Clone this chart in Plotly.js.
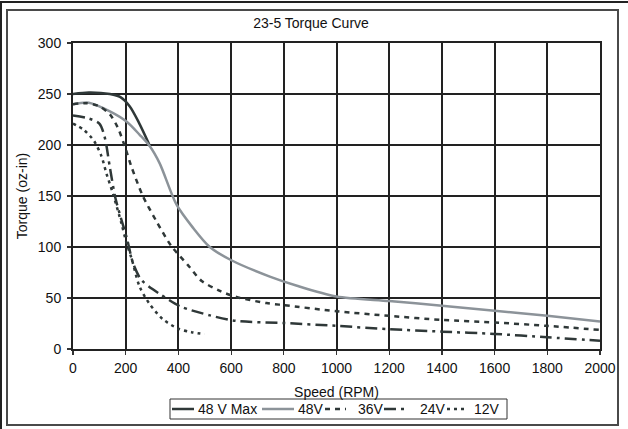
<!DOCTYPE html>
<html>
<head>
<meta charset="utf-8">
<script src="https://cdn.plot.ly/plotly-3.0.1.min.js"></script>
<style>
  html, body { margin: 0; padding: 0; background: #fff; }
  #wrap { position: relative; width: 628px; height: 429px; overflow: hidden; }
  #chart { position: absolute; left: 0; top: 0; width: 628px; height: 429px; }
  .outer { position: absolute; left: 0; top: 1px; width: 640px; height: 440px;
           border-top: 2px solid #222; border-left: 2px solid #222; pointer-events: none; }
  .inner { position: absolute; left: 6px; top: 9px; width: 609px; height: 413px;
           border: 2px solid #4a4a4a; pointer-events: none; }
</style>
</head>
<body>
<div id="wrap">
  <div id="chart"></div>
  <div class="outer"></div>
  <div class="inner"></div>
</div>
<script>
// ---- Data ----
const rpm48Max = [0, 60, 140, 180, 215, 250, 292];
const tq48Max  = [250, 251.5, 250, 247, 238, 222, 199];

const rpm48 = [0, 60, 140, 203, 253, 291, 329, 392, 455, 519, 601, 747, 850, 1000, 1200, 1400, 1600, 1800, 2000];
const tq48  = [240, 241.5, 233, 223, 210, 199, 182, 142, 119, 100, 87, 71, 62, 51.5, 47, 42.5, 37.5, 32.5, 27];

const rpm36 = [0, 50, 100, 140, 170, 200, 220, 265, 315, 373, 437, 487, 557, 620, 734, 800, 1000, 1200, 1400, 1600, 1800, 2000];
const tq36  = [240, 241, 238, 230, 217, 196, 180, 150, 126, 101, 82, 67, 57, 51, 45, 43, 37, 32.5, 28.5, 26, 22.7, 18.7];

const rpm24 = [0, 60, 100, 120, 140, 160, 180, 205, 228, 253, 266, 300, 329, 405, 519, 620, 800, 1000, 1200, 1400, 1600, 1800, 2000];
const tq24  = [229, 226, 221, 208, 178, 149, 130, 108, 84, 70, 66, 59, 54, 42, 33, 27.5, 25.5, 22.7, 19.4, 17, 14.8, 11.5, 8.2];

const rpm12 = [0, 40, 80, 108, 127, 152, 184, 203, 222, 253, 291, 342, 399, 450, 500];
const tq12  = [221, 215, 204, 189, 172, 152, 123, 104, 89, 61, 44, 29, 20, 16.5, 14.5];

const seriesNames = ['48 V Max', '48V', '36V', '24V', '12V'];
const xTicks = [0, 200, 400, 600, 800, 1000, 1200, 1400, 1600, 1800, 2000];
const yTicks = [0, 50, 100, 150, 200, 250, 300];

const dark = '#2f3838';
const grey = '#8c9399';
const FONT = 'Liberation Sans, Arial, sans-serif';
const FS = 14;
const dashes = ['solid', 'solid', '5px,5px', '12px,5px,3px,5px', '3px,4px'];
const colors = [dark, grey, dark, dark, dark];

function tr(x, y, i) {
  return {
    x: x, y: y, name: seriesNames[i], type: 'scatter', mode: 'lines',
    line: { color: colors[i], width: 2.5, dash: dashes[i], shape: 'spline', smoothing: 0.8 },
    hoverinfo: 'skip', showlegend: false
  };
}

const data = [
  tr(rpm48Max, tq48Max, 0),
  tr(rpm48, tq48, 1),
  tr(rpm36, tq36, 2),
  tr(rpm24, tq24, 3),
  tr(rpm12, tq12, 4)
];

// ---- legend drawn as boxed samples + text (paper coordinates) ----
const L = 73, R = 600, T = 43, B = 349;
const px = v => (v - L) / (R - L);
const py = v => (B - v) / (B - T);
const legY = 409;
const legSamples = [[172, 194, 196], [262, 294, 296], [325, 346, 356], [384, 408, 418], [447, 465, 472]];

const shapes = [{
  type: 'rect', xref: 'paper', yref: 'paper',
  x0: px(170), x1: px(507), y0: py(419), y1: py(399),
  line: { color: '#333', width: 1 }, fillcolor: 'rgba(0,0,0,0)'
}];
const annotations = [];
legSamples.forEach((s, i) => {
  shapes.push({
    type: 'line', xref: 'paper', yref: 'paper',
    x0: px(s[0]), x1: px(s[1]), y0: py(legY), y1: py(legY),
    line: { color: colors[i], width: 2.5, dash: dashes[i] }
  });
  annotations.push({
    xref: 'paper', yref: 'paper', x: px(s[2]), y: py(legY),
    xanchor: 'left', yanchor: 'middle', showarrow: false,
    text: seriesNames[i], font: { family: FONT, size: FS, color: '#111' }
  });
});

const layout = {
  width: 628, height: 429,
  paper_bgcolor: '#ffffff', plot_bgcolor: '#ffffff',
  margin: { l: L, r: 628 - R, t: T, b: 429 - B, pad: 0 },
  font: { family: FONT, size: FS, color: '#111' },
  title: { text: '23-5 Torque Curve', x: 311 / 628, xref: 'container', y: 1 - 23 / 429, yref: 'container',
           xanchor: 'center', yanchor: 'middle', font: { family: FONT, size: FS, color: '#111' } },
  xaxis: {
    range: [0, 2000], tickvals: xTicks, ticktext: xTicks.map(String),
    showgrid: true, gridcolor: '#222', gridwidth: 2,
    showline: true, linecolor: '#222', linewidth: 2, mirror: true,
    ticks: 'outside', ticklen: 4, tickcolor: '#333', tickwidth: 1.2,
    ticklabelstandoff: 1,
    zeroline: false, tickfont: { family: FONT, size: FS, color: '#111' },
    title: { text: 'Speed (RPM)', font: { family: FONT, size: FS, color: '#111' }, standoff: 12 }
  },
  yaxis: {
    range: [0, 300], tickvals: yTicks, ticktext: yTicks.map(String),
    showgrid: true, gridcolor: '#222', gridwidth: 2,
    showline: true, linecolor: '#222', linewidth: 2, mirror: true,
    ticks: 'outside', ticklen: 4, tickcolor: '#333', tickwidth: 1.2,
    ticklabelstandoff: 3,
    zeroline: false, tickfont: { family: FONT, size: FS, color: '#111' },
    title: { text: 'Torque (oz-in)', font: { family: FONT, size: FS, color: '#111' }, standoff: 7 }
  },
  showlegend: false,
  shapes: shapes,
  annotations: annotations
};

Plotly.newPlot('chart', data, layout, { staticPlot: true, displayModeBar: false });
</script>
</body>
</html>
